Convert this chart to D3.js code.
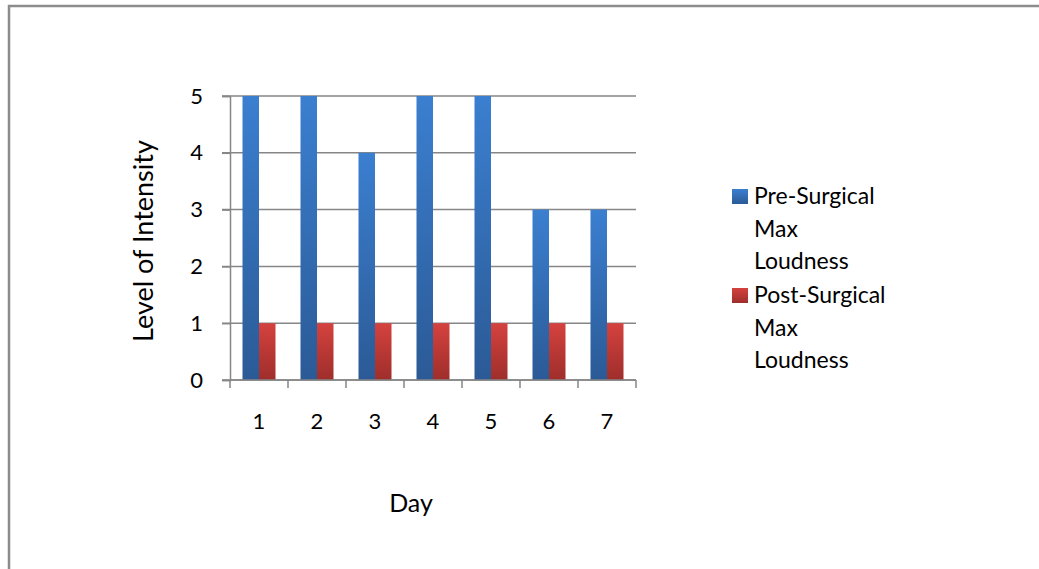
<!DOCTYPE html>
<html>
<head>
<meta charset="utf-8">
<script src="https://cdn.jsdelivr.net/npm/d3@7"></script>
<style>
  body { margin: 0; background: #fff; }
  text { font-family: Lato, "Open Sans", sans-serif; fill: #000; }
</style>
</head>
<body>
<script>
// data
var days = ["1", "2", "3", "4", "5", "6", "7"];
var preSurgical = [5, 5, 4, 5, 5, 3, 3];
var postSurgical = [1, 1, 1, 1, 1, 1, 1];
var seriesNames = ["Pre-Surgical Max Loudness", "Post-Surgical Max Loudness"];
var yTicks = [0, 1, 2, 3, 4, 5];

var width = 1039, height = 569;
var plot = {left: 230, right: 636, top: 96, bottom: 380};

var svg = d3.select("body").append("svg")
    .attr("width", width).attr("height", height);

var defs = svg.append("defs");
function grad(id, top, bottom) {
  var g = defs.append("linearGradient").attr("id", id)
      .attr("x1", 0).attr("y1", 0).attr("x2", 0).attr("y2", 1);
  g.append("stop").attr("offset", "0%").attr("stop-color", top);
  g.append("stop").attr("offset", "100%").attr("stop-color", bottom);
}
grad("blueGrad", "#3b7fd0", "#2b5a96");
grad("redGrad", "#d4423e", "#9e2e2b");

// outer frame (page border)
svg.append("path")
    .attr("d", "M9," + height + " V6 H" + width)
    .attr("fill", "none").attr("stroke", "#8c8c8c").attr("stroke-width", 2.5);

var x = d3.scaleBand().domain(days).range([plot.left, plot.right]);
var inner = d3.scaleBand().domain([0, 1]).range([0, 33]);
var y = d3.scaleLinear().domain([0, 5]).range([plot.bottom, plot.top]);

// gridlines
svg.append("g")
  .selectAll("line").data(yTicks).enter().append("line")
    .attr("x1", plot.left - 8).attr("x2", plot.right)
    .attr("y1", d => y(d)).attr("y2", d => y(d))
    .attr("stroke", "#868686").attr("stroke-width", 1.5);

// bars
var groups = svg.append("g").selectAll("g").data(days).enter().append("g")
    .attr("transform", d => "translate(" + (x(d) + (x.bandwidth() - 33) / 2) + ",0)");

groups.append("rect")
    .attr("x", inner(0)).attr("width", inner.bandwidth())
    .attr("y", (d, i) => y(preSurgical[i]))
    .attr("height", (d, i) => y(0) - y(preSurgical[i]))
    .attr("fill", "url(#blueGrad)");

groups.append("rect")
    .attr("x", inner(1)).attr("width", inner.bandwidth())
    .attr("y", (d, i) => y(postSurgical[i]))
    .attr("height", (d, i) => y(0) - y(postSurgical[i]))
    .attr("fill", "url(#redGrad)");

// y axis
var yAxis = svg.append("g")
    .attr("transform", "translate(" + plot.left + ",0)")
    .call(d3.axisLeft(y).tickValues(yTicks).tickSize(8).tickPadding(19).tickFormat(d3.format("d")));
yAxis.select(".domain").attr("stroke", "#868686").attr("stroke-width", 1.5);
yAxis.selectAll(".tick line").attr("stroke", "#868686").attr("stroke-width", 1.5);
yAxis.selectAll("text").style("font-size", "22px").style("font-family", "Lato, sans-serif").attr("fill", "#000");

// x axis
var xTickPos = days.map(d => x(d)).concat([plot.right]);
var xg = svg.append("g");
xg.append("line")
    .attr("x1", plot.left).attr("x2", plot.right)
    .attr("y1", plot.bottom).attr("y2", plot.bottom)
    .attr("stroke", "#868686").attr("stroke-width", 1.5);
xg.selectAll(".tk").data(xTickPos).enter().append("line")
    .attr("x1", d => d).attr("x2", d => d)
    .attr("y1", plot.bottom).attr("y2", plot.bottom + 8)
    .attr("stroke", "#868686").attr("stroke-width", 1.5);
xg.selectAll("text").data(days).enter().append("text")
    .attr("x", d => x(d) + x.bandwidth() / 2)
    .attr("y", 429)
    .attr("text-anchor", "middle")
    .style("font-size", "22px")
    .text(d => d);

// axis titles
svg.append("text")
    .attr("transform", "translate(153,241) rotate(-90)")
    .attr("text-anchor", "middle")
    .style("font-size", "27px")
    .text("Level of Intensity");

svg.append("text")
    .attr("x", 411).attr("y", 512)
    .attr("text-anchor", "middle")
    .style("font-size", "25px")
    .text("Day");

// legend
var legend = svg.append("g").attr("transform", "translate(732,0)");
var legendBase = [204, 303];
var fills = ["url(#blueGrad)", "url(#redGrad)"];
seriesNames.forEach(function(name, i) {
  legend.append("rect")
      .attr("x", 0).attr("y", legendBase[i] - 15)
      .attr("width", 16).attr("height", 15)
      .attr("fill", fills[i]);
  var words = ["", "Max", "Loudness"];
  words[0] = name.split(" ")[0];
  legend.selectAll(null).data(words).enter().append("text")
      .attr("x", 22)
      .attr("y", (w, j) => legendBase[i] + j * 32.5)
      .style("font-size", "23px")
      .text(w => w);
});
</script>
</body>
</html>
